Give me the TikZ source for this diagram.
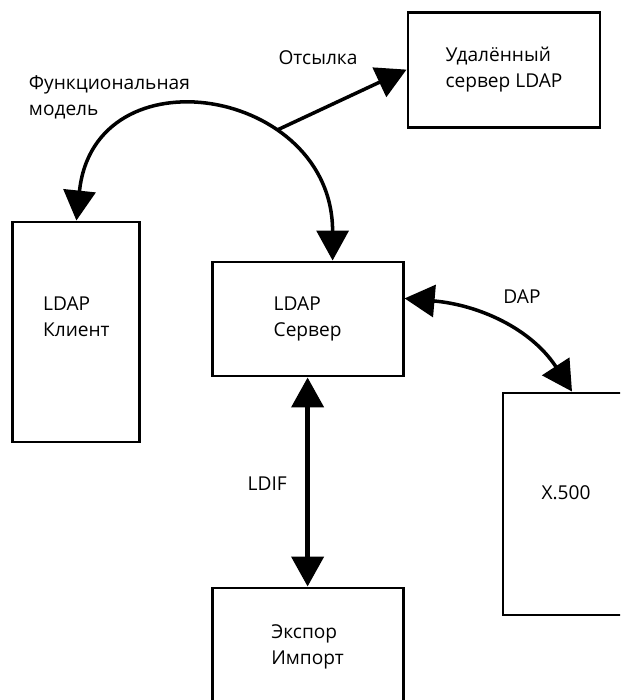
\documentclass[tikz,border=0pt]{standalone}
\usepackage{fontspec}
\setmainfont{Open Sans}
\usetikzlibrary{arrows.meta}

\tikzset{
  box/.style={draw, line width=2.1pt, align=left, inner sep=0pt},
  link/.style={line width=2.5pt, >={Triangle[length=0.75cm,width=0.8cm]}},
}

\begin{document}
\begin{tikzpicture}[font=\fontsize{13.6pt}{18.5pt}\selectfont]
            \useasboundingbox (0,0) rectangle (15.5,-17.5);
            \clip (0,0) rectangle (15.5,-17.5);

            \node[box, minimum width=4.8cm, minimum height=2.875cm] (remote) at (12.6,-1.74) {Удалённый\\сервер LDAP};
            \node[box, minimum width=3.175cm, minimum height=5.5cm, text depth=0.75cm] (client) at (1.91,-8.3) {LDAP\\Клиент};
            \node[box, minimum width=4.775cm, minimum height=2.85cm] (server) at (7.69,-7.975) {LDAP\\Сервер};
            \node[box, minimum width=3.15cm, minimum height=5.55cm, text depth=0.55cm] (x500) at (14.15,-12.6) {X.500};
            \node[box, minimum width=4.775cm, minimum height=2.95cm] (export) at (7.69,-16.175) {Экспор\\Импорт};

            \node[anchor=west, align=left] (funclbl) at (0.6,-2.44) {Функциональная\\модель};
            \node (reflbl) at (7.95,-1.45) {Отсылка};
            \node (daplbl) at (13.05,-7.42) {DAP};
            \node (ldiflbl) at (6.68,-12.08) {LDIF};

            \coordinate (refpt) at (6.93,-3.25);

            \draw[link, <->] (client.north) .. controls +(0.45,4.3) and +(0,4.33) .. ([xshift=0.625cm]server.north);
            \draw[link, ->] (refpt) -- (remote.west);
            \draw[link, <->] (server.12) to[out=-5, in=123] ([xshift=0.15cm]x500.north);
            \draw[link, <->, line width=3.2pt] (server.south) -- (export.north);
        \end{tikzpicture}
\end{document}
